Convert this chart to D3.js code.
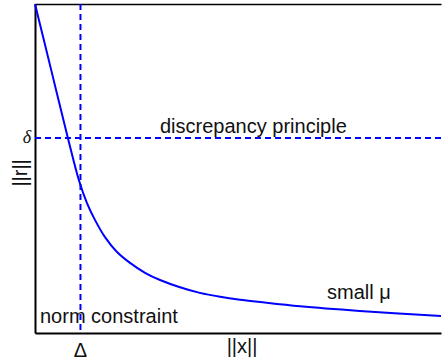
<!DOCTYPE html>
<html>
<head>
<meta charset="utf-8">
<script src="https://cdn.jsdelivr.net/npm/d3@7"></script>
<style>
  body { margin: 0; background: #fff; }
  text { font-family: "Liberation Sans", Arial, Helvetica, sans-serif; font-size: 20px; fill: #111; }
</style>
</head>
<body>
<div id="chart"></div>
<script>
// L-curve values (arbitrary units, 0..100)
const normX = [0, 4.0, 8.1, 10.8, 12.8, 14.8, 17.2, 20.2, 23.4, 27.1, 30.8, 35.7, 40.6, 45.6, 50.5, 55.4, 65.3, 80.0, 100]
const normR = [100, 79.9, 59.3, 46.5, 39.5, 34.3, 29.2, 24.6, 21.3, 18.3, 16.1, 13.9, 12.2, 11.0, 10.1, 9.4, 8.1, 6.7, 5.2]

// constraint levels
const bigDelta = 11.2   // norm constraint on ||x||
const smallDelta = 59.3 // discrepancy level on ||r||

const points = normX.map((x, i) => ({ x: x, r: normR[i] }))

const dimensions = {
  width: 442,
  height: 362,
  margin: { top: 4, right: 1, bottom: 29, left: 35 },
}
dimensions.boundedWidth = dimensions.width - dimensions.margin.left - dimensions.margin.right
dimensions.boundedHeight = dimensions.height - dimensions.margin.top - dimensions.margin.bottom

const svg = d3.select("#chart")
  .append("svg")
    .attr("width", dimensions.width)
    .attr("height", dimensions.height)

const bounds = svg.append("g")
  .attr("transform", `translate(${dimensions.margin.left},${dimensions.margin.top})`)

const xScale = d3.scaleLinear()
  .domain([0, 100])
  .range([0, dimensions.boundedWidth])

const yScale = d3.scaleLinear()
  .domain([0, 100])
  .range([dimensions.boundedHeight, 0])

// axes without ticks: just the box lines (left, bottom, top)
const styleAxis = g => g.select(".domain").attr("stroke", "#000").attr("stroke-width", 2)

bounds.append("g")
  .call(d3.axisLeft(yScale).tickValues([]).tickSizeOuter(0))
  .call(styleAxis)

bounds.append("g")
  .attr("transform", `translate(0,${dimensions.boundedHeight})`)
  .call(d3.axisBottom(xScale).tickValues([]).tickSizeOuter(0))
  .call(styleAxis)

bounds.append("g")
  .call(d3.axisTop(xScale).tickValues([]).tickSizeOuter(0))
  .call(g => g.select(".domain").attr("stroke", "#000").attr("stroke-width", 1.5))

// dashed constraint lines
bounds.append("line")
  .attr("x1", xScale(bigDelta)).attr("x2", xScale(bigDelta))
  .attr("y1", yScale(100)).attr("y2", yScale(0))
  .attr("stroke", "#0000ff")
  .attr("stroke-width", 2)
  .attr("stroke-dasharray", "6,4")

bounds.append("line")
  .attr("x1", xScale(0)).attr("x2", xScale(100))
  .attr("y1", yScale(smallDelta)).attr("y2", yScale(smallDelta))
  .attr("stroke", "#0000ff")
  .attr("stroke-width", 2)
  .attr("stroke-dasharray", "6,4")

// the L-curve
const lineGenerator = d3.line()
  .x(d => xScale(d.x))
  .y(d => yScale(d.r))
  .curve(d3.curveCatmullRom.alpha(0.5))

bounds.append("path")
  .datum(points)
  .attr("d", lineGenerator)
  .attr("fill", "none")
  .attr("stroke", "#0000ff")
  .attr("stroke-width", 2)

// annotations
bounds.append("text")
  .attr("x", 125)
  .attr("y", yScale(smallDelta) - 5)
  .text("discrepancy principle")

bounds.append("text")
  .attr("x", 5)
  .attr("y", dimensions.boundedHeight - 10)
  .text("norm constraint")

bounds.append("text")
  .attr("x", 292)
  .attr("y", 295)
  .text("small \u03bc")

// axis labels
bounds.append("text")
  .attr("x", xScale(bigDelta))
  .attr("y", dimensions.boundedHeight + 24)
  .attr("text-anchor", "middle")
  .text("\u0394")

bounds.append("text")
  .attr("x", xScale(51))
  .attr("y", dimensions.boundedHeight + 20)
  .attr("text-anchor", "middle")
  .text("||x||")

bounds.append("text")
  .attr("x", -4)
  .attr("y", yScale(smallDelta) + 5)
  .attr("text-anchor", "end")
  .style("font-family", "'Liberation Serif', 'Times New Roman', serif")
  .style("font-style", "italic")
  .style("font-size", "18px")
  .text("\u03b4")

bounds.append("text")
  .attr("transform", `translate(-8,${yScale(smallDelta) + 35}) rotate(-90)`)
  .attr("text-anchor", "middle")
  .text("||r||")
</script>
</body>
</html>
